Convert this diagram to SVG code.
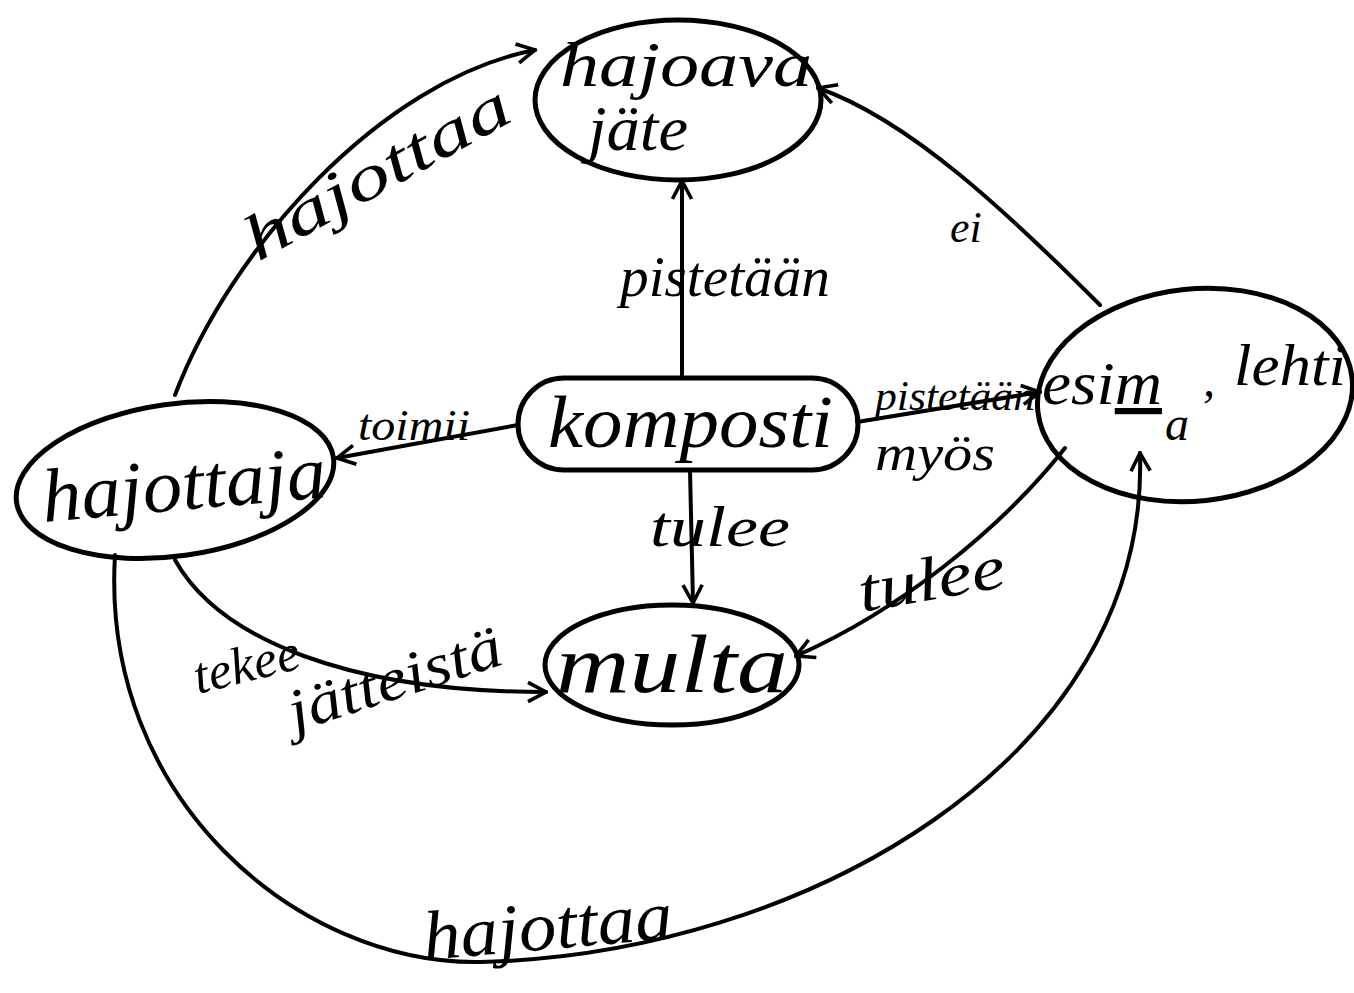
<svg xmlns="http://www.w3.org/2000/svg" width="1354" height="993" viewBox="0 0 1354 993">
<style>
.node{fill:#fff;stroke:#000;stroke-width:5}
.edge{fill:none;stroke:#000;stroke-width:4;stroke-linecap:round;marker-end:url(#ah)}
.t{font-family:"Liberation Serif",serif;font-style:italic;fill:#000}
</style>
<defs>
<marker id="ah" viewBox="0 0 20 20" refX="18" refY="10" markerWidth="24" markerHeight="24" markerUnits="userSpaceOnUse" orient="auto">
<path d="M3,2 L18,10 L3,18" fill="none" stroke="#000" stroke-width="3"/>
</marker>
</defs>
<rect width="1354" height="993" fill="#fff"/>
<g id="hajoava-jate">
<ellipse class="node" cx="678" cy="100" rx="143" ry="80"/>
<text class="t" x="560" y="86" font-size="64" textLength="252" lengthAdjust="spacingAndGlyphs">hajoava</text>
<text class="t" x="588" y="150" font-size="64" textLength="100" lengthAdjust="spacingAndGlyphs">jäte</text>
</g>
<g id="komposti">
<rect class="node" x="518" y="378" width="340" height="92" rx="46"/>
<text class="t" x="548" y="447" font-size="74" textLength="285" lengthAdjust="spacingAndGlyphs">komposti</text>
</g>
<g id="hajottaja">
<ellipse class="node" cx="175" cy="480" rx="160" ry="76" transform="rotate(-8 175 480)"/>
<text class="t" transform="translate(44,522) rotate(-5)" font-size="76" textLength="285" lengthAdjust="spacingAndGlyphs">hajottaja</text>
</g>
<g id="multa">
<ellipse class="node" cx="672" cy="665" rx="127" ry="60"/>
<text class="t" x="556" y="692" font-size="82" textLength="232" lengthAdjust="spacingAndGlyphs">multa</text>
</g>
<g id="esim-lehti">
<ellipse class="node" cx="1195" cy="395" rx="158" ry="106" transform="rotate(-6 1195 395)"/>
<text class="t" x="1042" y="404" font-size="62" textLength="120" lengthAdjust="spacingAndGlyphs">esi<tspan text-decoration="underline">m</tspan></text>
<text class="t" x="1165" y="440" font-size="48">a</text>
<text class="t" x="1203" y="396" font-size="48">,</text>
<text class="t" x="1234" y="385" font-size="60" textLength="112" lengthAdjust="spacingAndGlyphs">lehti</text>
</g>
<g id="connectors">
<path class="edge" d="M175,395 C230,250 380,80 535,50"/>
<path class="edge" d="M682,378 L682,181"/>
<path class="edge" d="M518,425 L337,458"/>
<path class="edge" d="M690,470 L693,603"/>
<path class="edge" d="M857,422 L1040,392"/>
<path class="edge" d="M1100,305 C1010,215 910,120 818,88"/>
<path class="edge" d="M1065,448 C1000,530 900,610 796,656"/>
<path class="edge" d="M175,560 C220,640 350,692 546,692"/>
<path class="edge" d="M115,555 C100,800 300,965 480,962 C800,955 1150,760 1140,453"/>
</g>
<g id="edge-labels">
<text class="t" transform="translate(258,262) rotate(-29)" font-size="64" textLength="295" lengthAdjust="spacingAndGlyphs">hajottaa</text>
<text class="t" x="620" y="296" font-size="56" textLength="210" lengthAdjust="spacingAndGlyphs">pistetään</text>
<text class="t" x="358" y="440" font-size="44" textLength="112" lengthAdjust="spacingAndGlyphs">toimii</text>
<text class="t" x="650" y="546" font-size="58" textLength="140" lengthAdjust="spacingAndGlyphs">tulee</text>
<text class="t" x="875" y="410" font-size="42" textLength="160" lengthAdjust="spacingAndGlyphs">pistetään</text>
<text class="t" x="875" y="470" font-size="50" textLength="120" lengthAdjust="spacingAndGlyphs">myös</text>
<text class="t" x="950" y="242" font-size="44">ei</text>
<text class="t" transform="translate(862,612) rotate(-10)" font-size="62" textLength="148" lengthAdjust="spacingAndGlyphs">tulee</text>
<text class="t" transform="translate(198,694) rotate(-14)" font-size="52" textLength="108" lengthAdjust="spacingAndGlyphs">tekee</text>
<text class="t" transform="translate(295,732) rotate(-18)" font-size="60" textLength="222" lengthAdjust="spacingAndGlyphs">jätteistä</text>
<text class="t" transform="translate(425,960) rotate(-5)" font-size="70" textLength="250" lengthAdjust="spacingAndGlyphs">hajottaa</text>
</g>
</svg>
